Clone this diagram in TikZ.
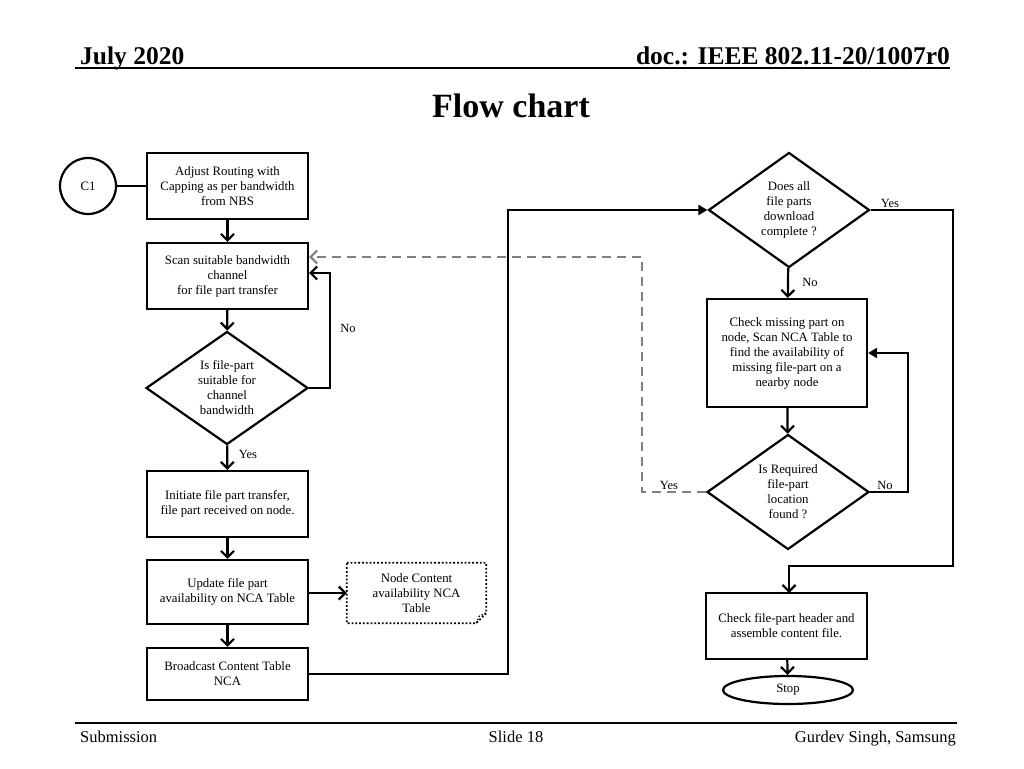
\documentclass[tikz,border=0pt]{standalone}
\usepackage{fontspec}
\setmainfont{Liberation Serif}
\usetikzlibrary{shapes.geometric,arrows.meta,calc}
\begin{document}
\begin{tikzpicture}[x=1pt,y=-1pt,
  txt/.style={font=\fontsize{12.8}{15}\selectfont, align=center},
  box/.style={txt, draw, line width=2.2pt, minimum width=161pt, minimum height=66pt, inner sep=0pt},
  dia/.style={txt, draw, diamond, line width=2.2pt, inner sep=0pt, aspect=1.43},
  lbl/.style={font=\fontsize{12.5}{15}\selectfont, inner sep=0pt},
  ln/.style={line width=2.2pt},
  arr/.style={ln, -{Straight Barb[length=6.5pt,width=13pt,line width=2.2pt]}},
  tri/.style={ln, -{Triangle[length=9pt,width=10pt]}},
  dsh/.style={line width=2.2pt, draw={rgb,255:red,128;green,128;blue,128}, dash pattern=on 9pt off 6pt,
    -{Straight Barb[length=6.5pt,width=13pt,line width=2.2pt]}}
]
\useasboundingbox (0,0) rectangle (1024,768);
% header / footer
\node[anchor=base west, font=\fontsize{25.5}{28}\selectfont\bfseries, inner sep=0] (hl) at (80,64) {July 2020};
\node[anchor=base east, font=\fontsize{25.5}{28}\selectfont\bfseries, inner sep=0] (hr) at (950,64) {doc.: IEEE 802.11-20/1007r0};
\draw[line width=1.8pt] (75,68) -- (950,68);
\node[anchor=base, font=\fontsize{34}{38}\selectfont\bfseries, inner sep=0] (title) at (511,117) {Flow chart};
\draw[line width=1.2pt] (75,723) -- (957,723);
\node[anchor=base west, font=\fontsize{16.5}{18}\selectfont, inner sep=0] (f1) at (80,742) {Submission};
\node[anchor=base, font=\fontsize{16.5}{18}\selectfont, inner sep=0] (f2) at (516,742) {Slide 18};
\node[anchor=base east, font=\fontsize{16.5}{18}\selectfont, inner sep=0] (f3) at (956,742) {Gurdev Singh, Samsung};

% left column
\node[txt, draw, circle, line width=2.2pt, minimum size=56pt, inner sep=0pt] (c1) at (88,186) {C1};
\node[box] (b1) at (227.5,186) {Adjust Routing with\\Capping as per bandwidth\\from NBS};
\node[box] (b2) at (227.5,276) {Scan suitable bandwidth\\channel\\for file part transfer};
\node[dia, minimum width=162pt, minimum height=113pt] (d1) at (227,388) {Is file-part\\suitable for\\channel\\bandwidth};
\node[box] (b3) at (227.5,504) {Initiate file part transfer,\\file part received on node.};
\node[box, minimum height=64pt] (b4) at (227.5,592) {Update file part\\availability on NCA Table};
\node[box, minimum height=52pt] (b5) at (227.5,674) {Broadcast Content Table\\NCA};

\node[txt, minimum width=139pt, minimum height=60pt, inner sep=0pt] (nca) at (416.5,593) {Node Content\\availability NCA\\Table};
\draw[line width=1.8pt, dotted] (nca.north west) -- (nca.north east) -- ($(nca.south east)+(0,-10)$)
  -- ($(nca.south east)+(-10,0)$) -- (nca.south west) -- cycle;
\draw[line width=1.4pt, dotted] ($(nca.south east)+(-10,0)$) -- ($(nca.south east)+(-7,-7)$) -- ($(nca.south east)+(0,-10)$);

% right column
\node[dia, minimum width=161pt, minimum height=115pt] (d2) at (789,210) {Does all\\file parts\\download\\complete ?};
\node[box, minimum width=160pt, minimum height=108pt] (b6) at (787,353) {Check missing part on\\node, Scan NCA Table to\\find the availability of\\missing file-part on a\\nearby node};
\node[dia, minimum width=162pt, minimum height=115pt] (d3) at (788,492) {Is Required\\file-part\\location\\found ?};
\node[box] (b7) at (786.5,626) {Check file-part header and\\assemble content file.};
\node[txt, draw, ellipse, line width=2.2pt, minimum width=130pt, minimum height=28pt, inner sep=0pt] (stop) at (788,690) {Stop};

% connectors
\draw[ln] (c1) -- (b1);
\draw[arr] (b1) -- (b2);
\draw[arr] (b2) -- (d1);
\draw[arr] (d1.east) -- (330,388) |- ([yshift=3pt]b2.east);
\draw[dsh] (d3.west) -- (642,492) |- ([yshift=19pt]b2.east);
\draw[arr] (d1) -- (b3);
\draw[arr] (b3) -- (b4);
\draw[arr] (b4.east |- nca.west) -- (nca.west);
\draw[arr] (b4) -- (b5);
\draw[tri] (b5.east) -- (508,674) |- (d2.west);
\draw[arr] (d2.east) -- (953,210) |- (789,566) -- (789,593);
\draw[arr] (d2) -- (b6);
\draw[arr] (b6) -- (d3);
\draw[tri] (d3.east) -- (908,492) |- (b6.east);
\draw[arr] (b7) -- (stop);

% labels
\node[lbl] (lno1) at (348,328) {No};
\node[lbl] (lyes1) at (248,454) {Yes};
\node[lbl] (lyes2) at (890,203) {Yes};
\node[lbl] (lno2) at (810,282) {No};
\node[lbl] (lno3) at (885,485) {No};
\node[lbl] (lyes3) at (669,485) {Yes};
\end{tikzpicture}
\end{document}
